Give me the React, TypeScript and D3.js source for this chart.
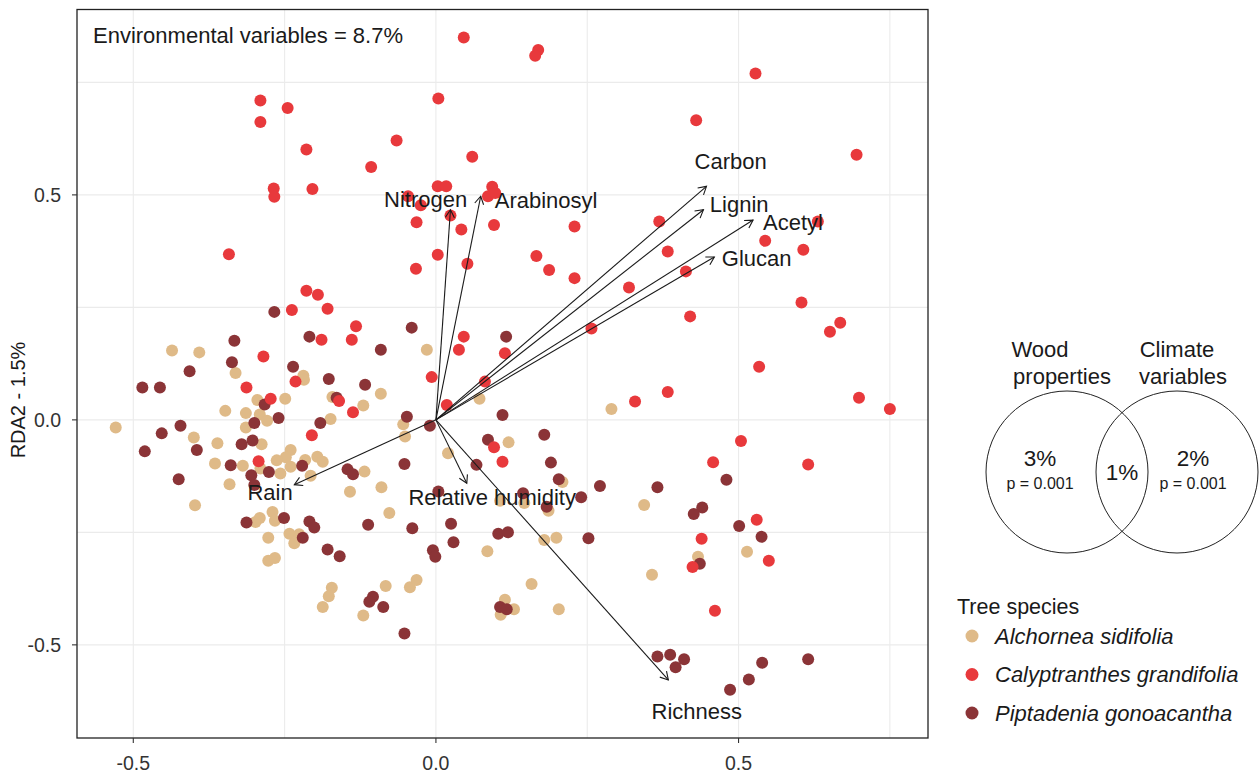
import React from "react";
import * as d3 from "d3";

// Site scores on the first two RDA axes, per tree species
const alchornea: [number, number][] = [
  [-0.436, 0.154], [-0.391, 0.15], [-0.331, 0.104], [-0.219, 0.098], [-0.218, 0.089],
  [-0.249, 0.047], [-0.295, 0.044], [-0.171, 0.051], [-0.348, 0.02], [-0.314, 0.015],
  [-0.291, 0.012], [-0.279, -0.002], [-0.12, 0.032], [-0.174, 0.002], [-0.529, -0.017],
  [-0.314, -0.017], [-0.4, -0.039], [-0.288, -0.054], [-0.361, -0.052], [-0.24, -0.067],
  [-0.248, -0.083], [-0.263, -0.09], [-0.196, -0.082], [-0.187, -0.093], [-0.216, -0.089],
  [-0.365, -0.097], [-0.319, -0.102], [-0.29, -0.108], [-0.24, -0.104], [-0.257, -0.119],
  [-0.207, -0.124], [-0.118, -0.115], [-0.341, -0.143], [-0.142, -0.16],
  [-0.015, 0.156], [-0.091, 0.058], [0.072, 0.047], [0.29, 0.024], [-0.054, -0.01],
  [-0.051, -0.037], [0.12, -0.05], [0.02, -0.074], [-0.09, -0.15], [0.209, -0.138],
  [0.106, -0.18],
  [-0.398, -0.19], [-0.298, -0.227], [-0.291, -0.218], [-0.27, -0.205], [-0.266, -0.224],
  [-0.277, -0.262], [-0.242, -0.253], [-0.226, -0.254], [-0.234, -0.274], [-0.277, -0.313],
  [-0.266, -0.307], [-0.172, -0.373], [-0.177, -0.392], [-0.187, -0.416], [-0.12, -0.435],
  [0.146, -0.185], [0.186, -0.202], [0.344, -0.189], [-0.077, -0.207], [0.179, -0.267],
  [0.199, -0.262], [0.085, -0.292], [-0.083, -0.369], [-0.043, -0.372], [-0.032, -0.356],
  [0.158, -0.365], [0.114, -0.4], [0.129, -0.421], [0.107, -0.433], [0.203, -0.421],
  [0.514, -0.293], [0.433, -0.304], [0.357, -0.344],
];

const piptadenia: [number, number][] = [
  [-0.267, 0.24], [-0.209, 0.185], [-0.333, 0.176], [-0.337, 0.128], [-0.407, 0.108],
  [-0.236, 0.118], [-0.177, 0.091], [-0.117, 0.078], [-0.485, 0.072], [-0.456, 0.072],
  [-0.283, 0.034], [-0.164, 0.049], [-0.26, 0.004], [-0.3, -0.007], [-0.191, -0.007],
  [-0.422, -0.013], [-0.453, -0.03], [-0.303, -0.046], [-0.321, -0.054], [-0.481, -0.07],
  [-0.395, -0.067], [-0.339, -0.101], [-0.221, -0.102], [-0.276, -0.116], [-0.305, -0.123],
  [-0.146, -0.11], [-0.137, -0.121], [-0.425, -0.132], [-0.3, -0.145],
  [-0.04, 0.205], [0.116, 0.185], [-0.091, 0.156], [-0.048, 0.007], [0.11, 0.011],
  [-0.01, -0.013], [0.179, -0.033], [0.086, -0.044], [-0.052, -0.098], [0.067, -0.1],
  [0.19, -0.095], [0.203, -0.132], [0.271, -0.147], [0.004, -0.159], [0.144, -0.163],
  [0.24, -0.172], [0.48, -0.133], [0.366, -0.15],
  [-0.313, -0.228], [-0.251, -0.218], [-0.209, -0.226], [-0.201, -0.239], [-0.22, -0.262],
  [-0.179, -0.288], [-0.159, -0.303], [-0.112, -0.233],
  [0.183, -0.193], [-0.039, -0.241], [0.025, -0.231], [0.029, -0.272], [0.103, -0.253],
  [0.119, -0.25], [0.252, -0.263], [-0.005, -0.29], [-0.001, -0.304], [-0.104, -0.393],
  [-0.11, -0.404], [-0.087, -0.416], [0.106, -0.416], [0.117, -0.421], [-0.052, -0.475],
  [0.44, -0.195], [0.426, -0.209], [0.501, -0.236], [0.538, -0.26], [0.436, -0.32],
  [0.366, -0.526], [0.387, -0.522], [0.41, -0.532], [0.396, -0.55], [0.539, -0.54],
  [0.615, -0.532], [0.517, -0.577], [0.486, -0.6],
];

const calyptranthes: [number, number][] = [
  [0.046, 0.85], [0.169, 0.822], [0.164, 0.809], [0.528, 0.77], [-0.29, 0.71],
  [0.004, 0.714], [-0.245, 0.693], [0.43, 0.666], [-0.29, 0.662], [-0.065, 0.621],
  [-0.107, 0.562], [-0.214, 0.601], [0.06, 0.585], [0.695, 0.589], [-0.268, 0.514],
  [-0.267, 0.496], [-0.204, 0.513], [0.003, 0.519], [0.017, 0.519], [0.093, 0.518],
  [0.086, 0.497], [0.098, 0.504], [-0.046, 0.497], [-0.025, 0.477], [0.024, 0.454],
  [-0.032, 0.439], [0.042, 0.423], [0.096, 0.433], [0.229, 0.43], [0.003, 0.367],
  [0.166, 0.364], [0.369, 0.441], [0.631, 0.441], [0.544, 0.398], [0.383, 0.374],
  [0.607, 0.378], [0.052, 0.347], [-0.033, 0.336], [0.187, 0.333], [0.229, 0.315],
  [0.319, 0.294], [0.413, 0.33], [0.42, 0.23], [0.604, 0.261], [0.668, 0.216],
  [0.651, 0.196], [0.534, 0.118], [0.383, 0.062], [0.329, 0.041], [0.699, 0.049],
  [0.75, 0.024], [0.504, -0.047], [0.458, -0.094], [0.615, -0.099], [0.257, 0.203],
  [0.046, 0.185], [0.038, 0.156], [0.114, 0.148], [-0.007, 0.095], [0.081, 0.085],
  [0.018, 0.033], [0.096, -0.061], [0.11, -0.093], [-0.342, 0.368], [-0.214, 0.287],
  [-0.195, 0.278], [-0.179, 0.247], [-0.238, 0.244], [-0.132, 0.208], [-0.139, 0.178],
  [-0.189, 0.178], [-0.285, 0.141], [-0.232, 0.085], [-0.313, 0.072], [-0.273, 0.047],
  [-0.16, 0.042], [-0.137, 0.017], [-0.205, -0.034], [-0.293, -0.092], [0.53, -0.222],
  [0.439, -0.264], [0.55, -0.313], [0.424, -0.327], [0.461, -0.424],
];

// Fitted environmental vectors: arrow tip and label anchor
const vectorNames = ["Carbon", "Lignin", "Acetyl", "Glucan", "Nitrogen", "Arabinosyl", "Rain", "Relative humidity", "Richness"];
const vectorTips: [number, number][] = [
  [0.447, 0.519], [0.442, 0.467], [0.524, 0.444], [0.46, 0.362], [0.024, 0.467],
  [0.074, 0.497], [-0.234, -0.144], [0.051, -0.141], [0.384, -0.578],
];
const vectorLabels: [number, number][] = [
  [0.487, 0.575], [0.501, 0.478], [0.59, 0.439], [0.53, 0.359], [-0.017, 0.49],
  [0.182, 0.489], [-0.274, -0.162], [0.093, -0.173], [0.431, -0.648],
];

const speciesNames = ["Alchornea sidifolia", "Calyptranthes grandifolia", "Piptadenia gonoacantha"];
const speciesColors = ["#DFBA88", "#E8393C", "#8B3437"];

const axisTicks = [-0.5, 0, 0.5];
const gridValues = [-0.5, -0.25, 0, 0.25, 0.5, 0.75];

const FONT = "'Liberation Sans', Arial, Helvetica, sans-serif";

export default function App() {
  const W = 1260, H = 774;
  const left = 77, right = 928, top = 9.5, bottom = 738;
  const x = d3.scaleLinear().domain([-0.593, 0.813]).range([left, right]);
  const y = d3.scaleLinear().domain([-0.707, 0.912]).range([bottom, top]);
  const fmt = (v: number) => d3.format(".1f")(v).replace("\u2212", "-");
  const r = 6;

  const series = [
    { pts: alchornea, color: speciesColors[0] },
    { pts: piptadenia, color: speciesColors[2] },
    { pts: calyptranthes, color: speciesColors[1] },
  ];

  const arrowHead = (tx: number, ty: number) => {
    const x0 = x(0), y0 = y(0);
    const ang = Math.atan2(ty - y0, tx - x0);
    const len = 9, spread = Math.PI / 6;
    const a1 = ang + Math.PI - spread, a2 = ang + Math.PI + spread;
    return `M${tx + len * Math.cos(a1)},${ty + len * Math.sin(a1)}L${tx},${ty}L${tx + len * Math.cos(a2)},${ty + len * Math.sin(a2)}`;
  };

  // Venn layout
  const vennR = 81;
  const vennLeft = { cx: 1067, cy: 472 };
  const vennRight = { cx: 1177, cy: 472 };

  return (
    <svg width={W} height={H} style={{ display: "block", position: "absolute", left: 0, top: 0 }} fontFamily={FONT}>
      <rect x={0} y={0} width={W} height={H} fill="#fff" />
      <defs>
        <clipPath id="panel">
          <rect x={left} y={top} width={right - left} height={bottom - top} />
        </clipPath>
      </defs>
      {/* grid */}
      <g stroke="#EBEBEB" strokeWidth={1.1}>
        {gridValues.map((v) => (
          <line key={"gx" + v} x1={x(v)} x2={x(v)} y1={top} y2={bottom} />
        ))}
        {gridValues.map((v) => (
          <line key={"gy" + v} x1={left} x2={right} y1={y(v)} y2={y(v)} />
        ))}
      </g>
      {/* points */}
      <g clipPath="url(#panel)">
        {series.map((s, i) =>
          s.pts.map((p, j) => (
            <circle key={i + "-" + j} cx={x(p[0])} cy={y(p[1])} r={r} fill={s.color} />
          ))
        )}
      </g>
      {/* environmental vectors */}
      <g stroke="#1a1a1a" strokeWidth={1.1} fill="none">
        {vectorTips.map((t, i) => (
          <g key={"v" + i}>
            <line x1={x(0)} y1={y(0)} x2={x(t[0])} y2={y(t[1])} />
            <path d={arrowHead(x(t[0]), y(t[1]))} />
          </g>
        ))}
      </g>
      <g fontSize={22} fill="#1a1a1a" textAnchor="middle">
        {vectorLabels.map((l, i) => (
          <text key={"l" + i} x={x(l[0])} y={y(l[1])} dy="0.35em">
            {vectorNames[i]}
          </text>
        ))}
      </g>
      <text x={93} y={35} dy="0.35em" fontSize={22} fill="#1a1a1a">
        Environmental variables = 8.7%
      </text>
      {/* panel border */}
      <rect x={left} y={top} width={right - left} height={bottom - top} fill="none" stroke="#222" strokeWidth={1.3} />
      {/* axes */}
      <g stroke="#333" strokeWidth={1.1}>
        {axisTicks.map((v) => (
          <line key={"tx" + v} x1={x(v)} x2={x(v)} y1={bottom} y2={bottom + 5} />
        ))}
        {axisTicks.map((v) => (
          <line key={"ty" + v} x1={left - 5} x2={left} y1={y(v)} y2={y(v)} />
        ))}
      </g>
      <g fontSize={19.5} fill="#333">
        {axisTicks.map((v) => (
          <text key={"xl" + v} x={x(v)} y={763} dy="0.35em" textAnchor="middle">
            {fmt(v)}
          </text>
        ))}
        {axisTicks.map((v) => (
          <text key={"yl" + v} x={61} y={y(v)} dy="0.35em" textAnchor="end">
            {fmt(v)}
          </text>
        ))}
      </g>
      <text transform="translate(18,400) rotate(-90)" textAnchor="middle" dy="0.35em" fontSize={20} fill="#1a1a1a">
        RDA2 - 1.5%
      </text>
      {/* variance partitioning */}
      <g fill="none" stroke="#222" strokeWidth={1}>
        <circle cx={vennLeft.cx} cy={vennLeft.cy} r={vennR} />
        <circle cx={vennRight.cx} cy={vennRight.cy} r={vennR} />
      </g>
      <g fill="#1a1a1a" textAnchor="middle">
        <text x={1040} y={349} dy="0.35em" fontSize={22}>Wood</text>
        <text x={1062} y={376} dy="0.35em" fontSize={22}>properties</text>
        <text x={1177} y={349} dy="0.35em" fontSize={22}>Climate</text>
        <text x={1183} y={376} dy="0.35em" fontSize={22}>variables</text>
        <text x={1040} y={458} dy="0.35em" fontSize={22.5}>3%</text>
        <text x={1040} y={483} dy="0.35em" fontSize={16}>p = 0.001</text>
        <text x={1122} y={472} dy="0.35em" fontSize={22.5}>1%</text>
        <text x={1193} y={458} dy="0.35em" fontSize={22.5}>2%</text>
        <text x={1193} y={483} dy="0.35em" fontSize={16}>p = 0.001</text>
      </g>
      {/* legend */}
      <text x={957} y={606} dy="0.35em" fontSize={21.5} fill="#1a1a1a">Tree species</text>
      {speciesNames.map((n, i) => (
        <g key={"lg" + i}>
          <circle cx={972} cy={636 + i * 38.5} r={6.5} fill={speciesColors[i]} />
          <text x={995} y={636 + i * 38.5} dy="0.35em" fontSize={22} fontStyle="italic" fill="#1a1a1a">
            {n}
          </text>
        </g>
      ))}
    </svg>
  );
}
